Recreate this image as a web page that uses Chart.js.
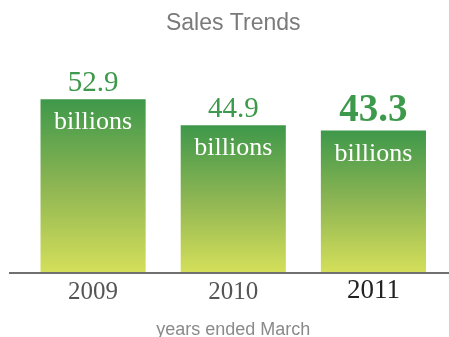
<!DOCTYPE html>
<html>
<head>
<meta charset="utf-8">
<title>Sales Trends</title>
<script src="https://cdn.jsdelivr.net/npm/chart.js@4.4.1/dist/chart.umd.min.js"></script>
<style>
  html, body { margin: 0; padding: 0; background: #fff; }
  #wrap { width: 449px; height: 337px; }
</style>
</head>
<body>
<div id="wrap"><canvas id="salesChart" width="449" height="337"></canvas></div>
<script>
// yearly sales, in billions
const years = ['2009', '2010', '2011'];
const sales = [52.9, 44.9, 43.3];
const unitLabel = 'billions';
const latestIndex = 2; // the latest year gets the bold treatment

const serif = '"Liberation Serif", "Times New Roman", serif';
const sans = '"Liberation Sans", Helvetica, Arial, sans-serif';
const green = '#3d994b';

// baseline under the bars, a bit wider than the plot area
const baseLine = {
    id: 'baseLine',
    afterDatasetsDraw(chart) {
        const ctx = chart.ctx;
        const y = chart.chartArea.bottom + 1;
        ctx.save();
        ctx.strokeStyle = '#707070';
        ctx.lineWidth = 2;
        ctx.beginPath();
        ctx.moveTo(9, y);
        ctx.lineTo(chart.width, y);
        ctx.stroke();
        ctx.restore();
    }
};

// value above each bar, unit inside the top of each bar
const barLabels = {
    id: 'barLabels',
    afterDatasetsDraw(chart) {
        const ctx = chart.ctx;
        const meta = chart.getDatasetMeta(0);
        ctx.save();
        ctx.textAlign = 'center';
        ctx.textBaseline = 'alphabetic';
        meta.data.forEach(function (bar, i) {
            const value = chart.data.datasets[0].data[i];
            const big = i === latestIndex;
            ctx.fillStyle = green;
            ctx.font = big ? 'bold 39px ' + serif : '29px ' + serif;
            ctx.fillText(value.toFixed(1), bar.x, bar.y - (big ? 10 : 8));

            ctx.fillStyle = '#ffffff';
            ctx.font = '26px ' + serif;
            ctx.fillText(unitLabel, bar.x, bar.y + 30);
        });
        ctx.restore();
    }
};

const ctx = document.getElementById('salesChart').getContext('2d');
const chart = new Chart(ctx, {
    type: 'bar',
    data: {
        labels: years,
        datasets: [{
            data: sales,
            // each bar fades from green at its top to yellow at the base
            backgroundColor: function (context) {
                const c = context.chart;
                if (!c.chartArea) {
                    return green;
                }
                const yScale = c.scales.y;
                const top = yScale.getPixelForValue(context.raw);
                const bottom = yScale.getPixelForValue(0);
                const grad = c.ctx.createLinearGradient(0, top, 0, bottom);
                grad.addColorStop(0, '#3e984a');
                grad.addColorStop(0.5, '#8db553');
                grad.addColorStop(1, '#d4df5a');
                return grad;
            },
            borderWidth: 0,
            barPercentage: 0.75,
            categoryPercentage: 1
        }]
    },
    options: {
        responsive: false,
        animation: false,
        devicePixelRatio: 1,
        layout: {
            padding: { left: 23, right: 5.5, top: 0, bottom: 0 }
        },
        plugins: {
            legend: { display: false },
            tooltip: { enabled: false },
            title: {
                display: true,
                text: 'Sales Trends',
                color: '#7a7a7a',
                font: { family: sans, size: 23, weight: 'normal', lineHeight: 1.2 },
                padding: { top: 9.5, bottom: 38.9 }
            }
        },
        scales: {
            x: {
                grid: { display: false, drawTicks: false },
                border: { display: false },
                ticks: {
                    padding: 5,
                    color: function (c) {
                        return c.index === latestIndex ? '#222222' : '#555555';
                    },
                    font: function (c) {
                        if (c.index === latestIndex) {
                            return { family: serif, size: 27, lineHeight: 1.06 };
                        }
                        return { family: serif, size: 25, lineHeight: 1.2 };
                    }
                },
                title: {
                    display: true,
                    text: 'years ended March',
                    color: '#8a8a8a',
                    font: { family: sans, size: 18, lineHeight: 0.8 },
                    padding: { top: 10.6, bottom: 0 }
                }
            },
            y: {
                display: false,
                min: 0,
                max: 60
            }
        }
    },
    plugins: [baseLine, barLabels]
});
</script>
</body>
</html>
